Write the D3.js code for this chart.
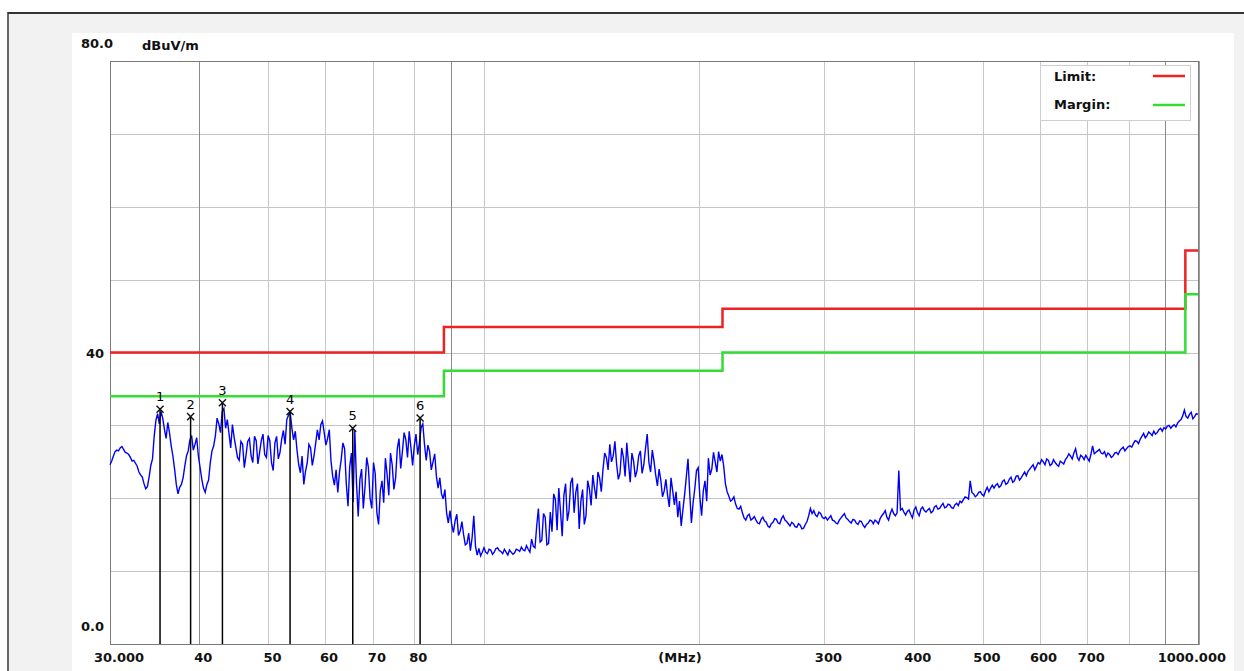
<!DOCTYPE html>
<html>
<head>
<meta charset="utf-8">
<script src="https://cdn.jsdelivr.net/npm/d3@7"></script>
<style>
  html, body { margin: 0; padding: 0; background: #fff; }
  svg { display: block; }
  text { font-family: "DejaVu Sans", sans-serif; }
</style>
</head>
<body>
<svg id="chart"></svg>
<script>
// limit lines (FCC class B style steps)
const limitEdgesMHz = [30, 88, 216, 960, 1000];
const limitLevels = [40, 43.5, 46, 54];
const marginLevels = [34, 37.5, 40, 48];

// markers
const markerNo = [1, 2, 3, 4, 5, 6];
const markerMHz = [35.25, 38.9, 43.1, 53.6, 65.6, 81.5];
const markerLevel = [32.2, 31.2, 33.1, 31.9, 29.6, 31.0];

// axes
const yGrid = [10, 20, 30, 40, 50, 60, 70];
const yLabelValues = [0, 40, 80];
const yLabelTexts = ["0.0", "40", "80.0"];
const xGridMHz = [40, 50, 60, 70, 80, 90, 100, 200, 300, 400, 500, 600, 700, 800, 900];
const xDarkGridMHz = [40, 90, 900];
const xLabelMHz = [30, 40, 50, 60, 70, 80, 300, 400, 500, 600, 700, 1000];
const xLabelTexts = ["30.000", "40", "50", "60", "70", "80", "300", "400", "500", "600", "700", "1000.000"];

// measured trace, log spaced sweep 30 MHz .. 1000 MHz (dBuV/m)
const traceStartMHz = 30;
const traceStopMHz = 1000;
const traceLevels = [
  24.6, 25.1, 25.8, 26.4, 26.6, 26.5, 26.9, 27.1, 26.7, 26.3, 26.2, 26.0, 25.6, 25.1, 25.2, 24.8, 24.4, 23.6, 23.2, 22.9,
  22.0, 21.3, 21.6, 22.9, 24.5, 25.4, 28.5, 30.7, 31.6, 30.2, 31.9, 31.0, 29.5, 28.2, 30.4, 29.0, 27.2, 25.8, 24.0, 21.9,
  20.6, 21.5, 21.9, 22.8, 24.4, 25.8, 26.5, 28.0, 28.6, 26.6, 27.4, 28.3, 25.8, 24.2, 22.6, 21.4, 20.8, 21.9, 22.5, 24.9,
  26.5, 27.2, 28.6, 31.0, 30.2, 29.0, 31.9, 32.3, 29.6, 30.8, 28.9, 26.9, 30.1, 28.4, 27.0, 25.6, 25.2, 27.8, 27.4, 24.2,
  25.9, 27.8, 28.2, 25.8, 24.9, 28.5, 27.9, 24.7, 26.3, 27.9, 28.8, 26.0, 25.6, 28.6, 27.9, 24.9, 23.8, 27.6, 28.5, 25.4,
  26.3, 28.1, 29.3, 27.4, 30.8, 31.4, 31.8, 29.6, 28.0, 29.2, 26.6, 24.6, 23.5, 25.8, 21.9, 23.7, 24.8, 27.4, 26.9, 24.5,
  25.8, 27.6, 29.4, 28.0, 30.1, 30.6, 29.0, 27.3, 28.2, 29.4, 25.1, 23.0, 21.8, 23.9, 20.8, 23.6, 25.3, 27.6, 26.8, 22.0,
  18.9, 24.3, 26.2, 19.5, 29.3, 22.1, 17.5, 22.6, 24.0, 18.6, 21.5, 25.6, 24.2, 20.0, 18.6, 24.9, 23.4, 18.0, 16.4, 21.0,
  22.4, 19.4, 25.5, 23.3, 20.4, 26.2, 24.6, 21.2, 22.8, 26.8, 28.2, 24.1, 26.4, 29.0, 28.1, 25.6, 29.2, 27.0, 24.5, 27.2,
  28.8, 26.0, 27.6, 29.7, 30.2, 27.4, 25.2, 27.3, 26.4, 23.9, 25.0, 26.1, 23.0, 21.4, 22.8, 20.6, 19.9, 21.2, 18.0, 16.6,
  18.3, 16.4, 15.3, 16.9, 17.8, 14.9, 15.5, 16.8, 15.0, 13.6, 13.8, 15.2, 12.8, 14.6, 17.6, 13.4, 12.2, 13.1, 12.1, 12.6,
  13.2, 12.6, 12.4, 13.0, 12.9, 12.3, 12.6, 13.1, 13.2, 12.8, 12.7, 12.4, 13.0, 12.6, 12.2, 12.9, 12.6, 12.3, 12.5, 13.0,
  12.9, 12.7, 13.3, 12.9, 12.8, 13.5, 13.0, 12.6, 14.4, 13.4, 13.2, 16.2, 18.6, 14.0, 14.2, 17.9, 17.4, 13.6, 13.8, 18.1,
  15.4, 20.6, 19.8, 15.6, 21.4, 18.2, 14.8, 20.4, 22.0, 16.9, 18.3, 22.1, 22.8, 18.0, 20.8, 22.0, 15.8, 19.6, 21.2, 16.4,
  17.6, 22.4, 21.3, 19.0, 23.2, 21.4, 19.9, 23.6, 22.8, 20.9, 24.0, 26.2, 25.6, 23.9, 27.4, 25.0, 25.8, 27.8, 24.7, 22.6,
  23.4, 26.9, 25.6, 23.0, 27.6, 24.8, 22.2, 26.2, 25.1, 22.9, 23.8, 25.8, 26.5, 23.4, 24.6, 26.8, 28.8, 24.9, 23.6, 26.6,
  25.1, 23.2, 21.7, 24.0, 22.5, 20.2, 21.0, 22.6, 20.4, 18.8, 22.8, 21.0, 19.1, 20.9, 17.4, 19.6, 16.2, 18.4, 20.5, 22.9,
  25.4, 20.8, 16.6, 19.4, 21.3, 23.8, 24.2, 20.1, 17.6, 21.0, 22.4, 19.6, 25.5, 23.2, 24.0, 26.3, 25.0, 23.6, 26.4, 25.1,
  26.0, 24.4, 22.0, 20.9, 20.3, 19.6, 19.8, 20.2, 19.2, 18.6, 18.5, 18.9, 18.0, 17.3, 17.0, 17.6, 17.8, 17.0, 17.2, 17.5,
  17.0, 16.6, 16.5, 17.1, 17.4, 16.9, 16.7, 16.2, 16.0, 16.5, 16.7, 17.2, 17.1, 16.6, 16.5, 17.2, 17.6, 17.0, 16.8, 16.5,
  16.2, 16.7, 16.5, 16.1, 16.0, 16.5, 16.3, 15.8, 15.9, 16.4, 16.8, 17.6, 18.6, 17.9, 18.3, 17.7, 17.5, 18.1, 17.9, 17.4,
  17.2, 17.4, 17.0, 17.3, 17.6, 17.0, 16.9, 16.6, 16.5, 17.0, 17.3, 17.6, 17.9, 17.3, 17.1, 16.8, 16.6, 17.1, 17.0, 16.6,
  16.4, 16.9, 16.8, 16.3, 16.0, 16.4, 16.6, 17.0, 16.9, 16.5, 17.0, 16.8, 16.5, 17.2, 17.6, 17.9, 18.3, 17.4, 17.0, 17.9,
  18.5, 17.9, 17.6, 18.0, 23.8, 18.4, 18.6, 18.1, 17.7, 18.2, 18.4, 17.8, 17.3, 18.4, 18.8, 18.0, 17.6, 18.5, 18.8, 18.3,
  18.1, 18.4, 18.6, 18.0, 18.2, 18.8, 19.0, 18.5, 18.6, 19.0, 19.3, 18.7, 18.8, 19.2, 19.1, 18.7, 18.6, 19.1, 19.3, 19.0,
  19.6, 19.4, 19.8, 20.2, 20.1, 19.9, 22.4, 20.8, 20.6, 20.2, 20.4, 20.8, 20.9, 20.5, 20.3, 21.0, 21.5, 20.9, 21.4, 21.8,
  21.4, 21.8, 22.0, 21.5, 21.7, 22.3, 22.5, 21.9, 22.1, 22.6, 22.9, 22.2, 22.4, 23.0, 23.1, 22.5, 22.8, 23.2, 23.6, 23.1,
  23.7, 24.0, 24.3, 24.6, 23.9, 24.4, 24.9, 24.7, 25.3, 25.0, 24.6, 25.4, 25.2, 24.5, 24.7, 25.3, 24.9, 24.6, 24.4, 25.1,
  24.9, 24.7, 25.3, 25.6, 26.1, 25.8, 25.4, 26.2, 26.8, 25.6, 25.2, 25.9, 25.7, 25.3, 25.9, 25.5, 25.1, 26.0, 27.2, 26.1,
  26.3, 26.5, 26.7, 26.2, 26.1, 26.4, 25.7, 26.2, 26.0, 25.6, 25.8, 26.2, 26.3, 26.0, 26.5, 26.8, 27.0, 26.5, 26.8, 27.1,
  27.2, 27.0, 27.5, 27.9, 27.8, 27.5, 28.1, 28.5, 28.9, 28.3, 28.6, 29.1, 28.9, 28.6, 29.2, 28.8, 29.0, 29.4, 29.6, 29.2,
  29.7, 29.5, 29.9, 30.0, 29.6, 29.9, 30.1, 29.8, 30.3, 30.6, 30.8, 31.3, 32.1, 31.2, 31.0, 31.5, 31.8, 30.9, 31.2, 31.6,
  31.5
];

const W = 1244, H = 671;
const plotLeft = 110, plotRight = 1198, plotTop = 61, plotBottom = 644;

const svg = d3.select("#chart").attr("width", W).attr("height", H);

// window background
svg.append("rect").attr("width", W).attr("height", H).attr("fill", "#fff");
svg.append("rect").attr("x", 9).attr("y", 14).attr("width", W - 9).attr("height", H - 14).attr("fill", "#f2f2f2");
svg.append("rect").attr("x", 72).attr("y", 33).attr("width", 1162).attr("height", H - 33).attr("fill", "#fff");
svg.append("line").attr("x1", 8).attr("x2", W).attr("y1", 13).attr("y2", 13).attr("stroke", "#333").attr("stroke-width", 2);
svg.append("line").attr("x1", 8).attr("x2", 8).attr("y1", 12).attr("y2", H).attr("stroke", "#333").attr("stroke-width", 1.5);

const x = d3.scaleLog().domain([30, 1000]).range([plotLeft, plotRight]);
const y = d3.scaleLinear().domain([0, 80]).range([plotBottom, plotTop]);

// grid
const grid = svg.append("g").attr("shape-rendering", "crispEdges");
grid.selectAll(".hg").data(yGrid).join("line")
  .attr("x1", plotLeft).attr("x2", plotRight)
  .attr("y1", d => Math.round(y(d)) + 0.5).attr("y2", d => Math.round(y(d)) + 0.5)
  .attr("stroke", "#c4c4c4");
grid.selectAll(".vg").data(xGridMHz).join("line")
  .attr("x1", d => Math.round(x(d)) + 0.5).attr("x2", d => Math.round(x(d)) + 0.5)
  .attr("y1", plotTop).attr("y2", plotBottom)
  .attr("stroke", d => xDarkGridMHz.includes(d) ? "#8a8a8a" : "#c8c8c8");

// frame
svg.append("rect").attr("x", plotLeft + 0.5).attr("y", plotTop + 0.5)
  .attr("width", plotRight - plotLeft).attr("height", plotBottom - plotTop)
  .attr("fill", "none").attr("stroke", "#7a7a7a").attr("shape-rendering", "crispEdges");
svg.append("line").attr("x1", plotRight + 1.5).attr("x2", plotRight + 1.5).attr("y1", plotTop).attr("y2", plotBottom + 1)
  .attr("stroke", "#a0a0a0").attr("stroke-width", 1);

// y labels
svg.selectAll(".yl").data(yLabelValues).join("text")
  .attr("x", d => d === 40 ? 104 : 81)
  .attr("y", d => d === 40 ? y(d) + 5 : y(d) - 13)
  .attr("text-anchor", d => d === 40 ? "end" : "start")
  .attr("font-size", 13).attr("font-weight", "bold").attr("fill", "#111")
  .text((d, i) => yLabelTexts[i]);
svg.append("text").attr("x", 142).attr("y", 50)
  .attr("font-size", 13).attr("font-weight", "bold").attr("fill", "#111").text("dBuV/m");

// x labels
svg.selectAll(".xl").data(xLabelMHz).join("text")
  .attr("x", (d, i) => i === 0 ? x(d) - 16 : i === xLabelMHz.length - 1 ? x(d) + 28 : x(d) + 4)
  .attr("y", 662)
  .attr("text-anchor", (d, i) => i === 0 ? "start" : i === xLabelMHz.length - 1 ? "end" : "middle")
  .attr("font-size", 13).attr("font-weight", "bold").attr("fill", "#111")
  .text((d, i) => xLabelTexts[i]);
svg.append("text").attr("x", 680).attr("y", 662).attr("text-anchor", "middle")
  .attr("font-size", 13).attr("font-weight", "bold").attr("fill", "#111").text("(MHz)");

// limit and margin steps
function stepPoints(levels) {
  const pts = [];
  levels.forEach((v, i) => {
    pts.push([limitEdgesMHz[i], v]);
    pts.push([limitEdgesMHz[i + 1], v]);
  });
  return pts;
}
const stepLine = d3.line().x(d => x(d[0])).y(d => y(d[1]));
svg.append("path").attr("d", stepLine(stepPoints(limitLevels)))
  .attr("fill", "none").attr("stroke", "#ee2222").attr("stroke-width", 2.5);
svg.append("path").attr("d", stepLine(stepPoints(marginLevels)))
  .attr("fill", "none").attr("stroke", "#33dd33").attr("stroke-width", 2.5);

// trace
const n = traceLevels.length;
const sweepMHz = i => traceStartMHz * Math.pow(traceStopMHz / traceStartMHz, i / (n - 1));
svg.append("path")
  .attr("d", d3.line().x((d, i) => x(sweepMHz(i))).y(d => y(d))(traceLevels))
  .attr("fill", "none").attr("stroke", "#0000f5").attr("stroke-width", 1.4);

// markers
const mk = svg.append("g");
markerNo.forEach((m, i) => {
  const mx = x(markerMHz[i]), my = y(markerLevel[i]);
  mk.append("line").attr("x1", mx).attr("x2", mx).attr("y1", my).attr("y2", plotBottom)
    .attr("stroke", "#000").attr("stroke-width", 1.5);
  mk.append("path").attr("d", d3.symbol(d3.symbolX, 34)())
    .attr("transform", `translate(${mx},${my})`)
    .attr("fill", "none").attr("stroke", "#111").attr("stroke-width", 1.4);
  mk.append("text").attr("x", mx).attr("y", my - 8).attr("text-anchor", "middle")
    .attr("font-size", 13).attr("fill", "#000").text(m);
});

// legend
const lg = svg.append("g");
lg.append("rect").attr("x", 1040.5).attr("y", 65.5).attr("width", 150).attr("height", 55)
  .attr("fill", "#fff").attr("stroke", "#cfcfcf");
lg.append("text").attr("x", 1054).attr("y", 81).attr("font-size", 13).attr("font-weight", "bold").attr("fill", "#111").text("Limit:");
lg.append("text").attr("x", 1054).attr("y", 109).attr("font-size", 13).attr("font-weight", "bold").attr("fill", "#111").text("Margin:");
lg.append("line").attr("x1", 1153).attr("x2", 1185).attr("y1", 76).attr("y2", 76).attr("stroke", "#ee2222").attr("stroke-width", 2.5);
lg.append("line").attr("x1", 1153).attr("x2", 1185).attr("y1", 105).attr("y2", 105).attr("stroke", "#33dd33").attr("stroke-width", 2.5);
</script>
</body>
</html>
